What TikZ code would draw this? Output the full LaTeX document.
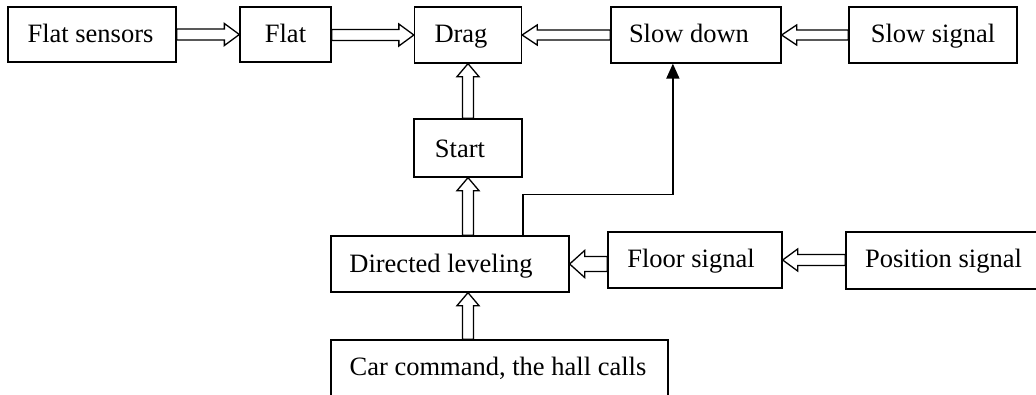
\documentclass[tikz,border=0pt]{standalone}
\usepackage{fontspec}
\setmainfont{Liberation Serif}
\usetikzlibrary{arrows.meta,calc}
\tikzset{
  box/.style={draw, line width=1.3pt, inner sep=0pt, fill=white},
  lbl/.style={inner sep=0pt, anchor=base, font=\fontsize{26.5}{30}\selectfont},
  hollow/.style={draw, line width=1.3pt, fill=white, line join=miter},
  feed/.style={draw, line width=1.7pt, -{Triangle[width=13pt,length=15pt]}},
}
% horizontal arrow pointing right: from #1 to #2, y from #2
\newcommand\harrowR[2]{\path[hollow] let \p1=(#1), \p2=(#2) in
  (\x1,\y2+5.5pt) -- (\x2-15pt,\y2+5.5pt) -- (\x2-15pt,\y2+11pt) -- (\x2,\y2)
  -- (\x2-15pt,\y2-11pt) -- (\x2-15pt,\y2-5.5pt) -- (\x1,\y2-5.5pt) -- cycle;}
% horizontal arrow pointing left: from #1 to #2, y from #2, #3 shaft half, #4 head half
\newcommand\harrowL[4]{\path[hollow] let \p1=(#1), \p2=(#2) in
  (\x1,\y2+#3) -- (\x2+15pt,\y2+#3) -- (\x2+15pt,\y2+#4) -- (\x2,\y2)
  -- (\x2+15pt,\y2-#4) -- (\x2+15pt,\y2-#3) -- (\x1,\y2-#3) -- cycle;}
% vertical arrow pointing up: from #1 to #2, x from #2
\newcommand\varrowU[2]{\path[hollow] let \p1=(#1), \p2=(#2) in
  (\x2-5.5pt,\y1) -- (\x2-5.5pt,\y2-13pt) -- (\x2-11pt,\y2-13pt) -- (\x2,\y2)
  -- (\x2+11pt,\y2-13pt) -- (\x2+5.5pt,\y2-13pt) -- (\x2+5.5pt,\y1) -- cycle;}
\begin{document}
\begin{tikzpicture}[x=1pt,y=-1pt]
\useasboundingbox (0,0) rectangle (1036,394);
\begin{scope}
\clip (0,0) rectangle (1036,394);
% boxes
\node[box, minimum width=168pt, minimum height=55pt] (fs) at (92,34.5) {};
\node[box, minimum width=91pt, minimum height=55pt] (fl) at (285.5,34.5) {};
\node[box, minimum width=107pt, minimum height=56pt] (dr) at (468,35) {};
\node[box, minimum width=170pt, minimum height=56pt] (sd) at (696,35) {};
\node[box, minimum width=168pt, minimum height=56pt] (ss) at (933,35) {};
\node[box, minimum width=108pt, minimum height=58pt] (st) at (468,148) {};
\node[box, minimum width=238pt, minimum height=56pt] (dl) at (450,264) {};
\node[box, minimum width=174pt, minimum height=56pt] (fg) at (695,260) {};
\node[box, minimum width=200pt, minimum height=57pt] (ps) at (946,260.5) {};
\node[box, minimum width=337pt, minimum height=66pt] (cc) at (499.5,373) {};
% labels (placed by baseline)
\node[lbl] (tfs) at (90.5,42) {Flat sensors};
\node[lbl] (tfl) at (285.5,42) {Flat};
\node[lbl] (tdr) at (461,42) {Drag};
\node[lbl] (tsd) at (689,42) {Slow down};
\node[lbl] (tss) at (933,42) {Slow signal};
\node[lbl] (tst) at (460,157) {Start};
\node[lbl] (tdl) at (441,272) {Directed leveling};
\node[lbl] (tfg) at (691,267) {Floor signal};
\node[lbl] (tps) at (943.5,267) {Position signal};
\node[lbl] (tcc) at (498,375) {Car command, the hall calls};
% hollow arrows
\harrowR{fs.east}{fl.west}
\harrowR{fl.east}{dr.west}
\harrowL{sd.west}{dr.east}{5pt}{10pt}
\harrowL{ss.west}{sd.east}{5pt}{10pt}
\harrowL{fg.west}{dl.east}{7.5pt}{13.5pt}
\harrowL{ps.west}{fg.east}{5.5pt}{11pt}
\varrowU{st.north}{dr.south}
\varrowU{dl.north}{st.south}
\varrowU{cc.north}{dl.south -| st.south}
% feedback line
\coordinate (sdin) at ($(sd.south west)!0.365!(sd.south east)$);
\draw[feed] (dl.north -| st.east) -- ++(0,-41) -| (sdin);
\end{scope}
\end{tikzpicture}
\end{document}
